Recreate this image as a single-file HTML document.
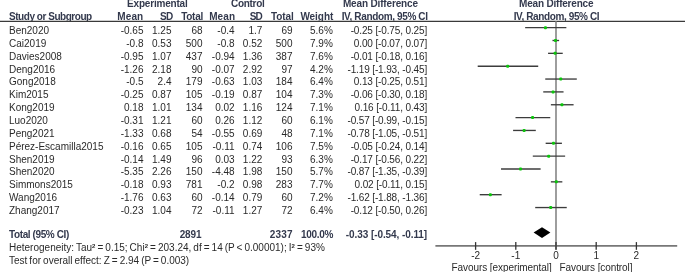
<!DOCTYPE html>
<html><head><meta charset="utf-8"><style>
html,body{margin:0;padding:0;background:#fff;}
body{width:685px;height:272px;position:relative;overflow:hidden;font-family:"Liberation Sans",sans-serif;font-size:10px;color:#2a2a2a;}
.t{position:absolute;white-space:nowrap;line-height:12px;height:12px;}
body{-webkit-font-smoothing:antialiased;}
.wrap{position:absolute;left:0;top:0;width:685px;height:272px;will-change:transform;}
.b{font-weight:bold;}
.sq{font-weight:bold;font-size:6px;position:relative;top:-3.2px;letter-spacing:0.1px;}
.s{position:absolute;left:0;top:0;}
</style></head><body><div class="wrap">
<div class="t b" style="top:-1.70px;left:7.30px;width:300px;text-align:center;color:#33394d;letter-spacing:-0.2px;">Experimental</div>
<div class="t b" style="top:-1.70px;left:97.75px;width:300px;text-align:center;color:#33394d;letter-spacing:-0.3px;">Control</div>
<div class="t b" style="top:-1.70px;left:230.38px;width:300px;text-align:center;color:#33394d;letter-spacing:-0.15px;">Mean Difference</div>
<div class="t b" style="top:-1.70px;left:406.20px;width:300px;text-align:center;color:#33394d;letter-spacing:-0.2px;">Mean Difference</div>
<div class="t b" style="top:11.10px;left:9.00px;color:#33394d;letter-spacing:-0.46px;">Study or Subgroup</div>
<div class="t b" style="top:11.10px;left:-56.70px;width:200px;text-align:right;color:#33394d;letter-spacing:0.1px;">Mean</div>
<div class="t b" style="top:11.10px;left:-27.80px;width:200px;text-align:right;color:#33394d;letter-spacing:-0.9px;">SD</div>
<div class="t b" style="top:11.10px;left:3.05px;width:200px;text-align:right;color:#33394d;letter-spacing:-0.25px;">Total</div>
<div class="t b" style="top:11.10px;left:35.10px;width:200px;text-align:right;color:#33394d;letter-spacing:0.1px;">Mean</div>
<div class="t b" style="top:11.10px;left:61.90px;width:200px;text-align:right;color:#33394d;letter-spacing:-0.9px;">SD</div>
<div class="t b" style="top:11.10px;left:93.70px;width:200px;text-align:right;color:#33394d;letter-spacing:-0.1px;">Total</div>
<div class="t b" style="top:11.10px;left:133.25px;width:200px;text-align:right;color:#33394d;letter-spacing:-0.05px;">Weight</div>
<div class="t b" style="top:11.10px;left:227.66px;width:200px;text-align:right;color:#33394d;letter-spacing:-0.36px;">IV, Random, 95% CI</div>
<div class="t b" style="top:11.10px;left:406.49px;width:300px;text-align:center;color:#33394d;letter-spacing:-0.38px;">IV, Random, 95% CI</div>
<div class="t" style="top:25.00px;left:9.00px;">Ben2020</div>
<div class="t" style="top:25.00px;left:-56.50px;width:200px;text-align:right;">-0.65</div>
<div class="t" style="top:25.00px;left:-28.50px;width:200px;text-align:right;">1.25</div>
<div class="t" style="top:25.00px;left:2.50px;width:200px;text-align:right;">68</div>
<div class="t" style="top:25.00px;left:34.60px;width:200px;text-align:right;">-0.4</div>
<div class="t" style="top:25.00px;left:62.30px;width:200px;text-align:right;">1.7</div>
<div class="t" style="top:25.00px;left:92.50px;width:200px;text-align:right;">69</div>
<div class="t" style="top:25.00px;left:132.80px;width:200px;text-align:right;">5.6%</div>
<div class="t" style="top:25.00px;left:227.13px;width:200px;text-align:right;letter-spacing:-0.13px;">-0.25 [-0.75, 0.25]</div>
<div class="t" style="top:37.86px;left:9.00px;">Cai2019</div>
<div class="t" style="top:37.86px;left:-56.50px;width:200px;text-align:right;">-0.8</div>
<div class="t" style="top:37.86px;left:-28.50px;width:200px;text-align:right;">0.53</div>
<div class="t" style="top:37.86px;left:2.50px;width:200px;text-align:right;">500</div>
<div class="t" style="top:37.86px;left:34.60px;width:200px;text-align:right;">-0.8</div>
<div class="t" style="top:37.86px;left:62.30px;width:200px;text-align:right;">0.52</div>
<div class="t" style="top:37.86px;left:92.50px;width:200px;text-align:right;">500</div>
<div class="t" style="top:37.86px;left:132.80px;width:200px;text-align:right;">7.9%</div>
<div class="t" style="top:37.86px;left:227.13px;width:200px;text-align:right;letter-spacing:-0.13px;">0.00 [-0.07, 0.07]</div>
<div class="t" style="top:50.71px;left:9.00px;">Davies2008</div>
<div class="t" style="top:50.71px;left:-56.50px;width:200px;text-align:right;">-0.95</div>
<div class="t" style="top:50.71px;left:-28.50px;width:200px;text-align:right;">1.07</div>
<div class="t" style="top:50.71px;left:2.50px;width:200px;text-align:right;">437</div>
<div class="t" style="top:50.71px;left:34.60px;width:200px;text-align:right;">-0.94</div>
<div class="t" style="top:50.71px;left:62.30px;width:200px;text-align:right;">1.36</div>
<div class="t" style="top:50.71px;left:92.50px;width:200px;text-align:right;">387</div>
<div class="t" style="top:50.71px;left:132.80px;width:200px;text-align:right;">7.6%</div>
<div class="t" style="top:50.71px;left:227.13px;width:200px;text-align:right;letter-spacing:-0.13px;">-0.01 [-0.18, 0.16]</div>
<div class="t" style="top:63.57px;left:9.00px;">Deng2016</div>
<div class="t" style="top:63.57px;left:-56.50px;width:200px;text-align:right;">-1.26</div>
<div class="t" style="top:63.57px;left:-28.50px;width:200px;text-align:right;">2.18</div>
<div class="t" style="top:63.57px;left:2.50px;width:200px;text-align:right;">90</div>
<div class="t" style="top:63.57px;left:34.60px;width:200px;text-align:right;">-0.07</div>
<div class="t" style="top:63.57px;left:62.30px;width:200px;text-align:right;">2.92</div>
<div class="t" style="top:63.57px;left:92.50px;width:200px;text-align:right;">97</div>
<div class="t" style="top:63.57px;left:132.80px;width:200px;text-align:right;">4.2%</div>
<div class="t" style="top:63.57px;left:227.13px;width:200px;text-align:right;letter-spacing:-0.13px;">-1.19 [-1.93, -0.45]</div>
<div class="t" style="top:76.43px;left:9.00px;">Gong2018</div>
<div class="t" style="top:76.43px;left:-56.50px;width:200px;text-align:right;">-0.5</div>
<div class="t" style="top:76.43px;left:-28.50px;width:200px;text-align:right;">2.4</div>
<div class="t" style="top:76.43px;left:2.50px;width:200px;text-align:right;">179</div>
<div class="t" style="top:76.43px;left:34.60px;width:200px;text-align:right;">-0.63</div>
<div class="t" style="top:76.43px;left:62.30px;width:200px;text-align:right;">1.03</div>
<div class="t" style="top:76.43px;left:92.50px;width:200px;text-align:right;">184</div>
<div class="t" style="top:76.43px;left:132.80px;width:200px;text-align:right;">6.4%</div>
<div class="t" style="top:76.43px;left:227.13px;width:200px;text-align:right;letter-spacing:-0.13px;">0.13 [-0.25, 0.51]</div>
<div class="t" style="top:89.29px;left:9.00px;">Kim2015</div>
<div class="t" style="top:89.29px;left:-56.50px;width:200px;text-align:right;">-0.25</div>
<div class="t" style="top:89.29px;left:-28.50px;width:200px;text-align:right;">0.87</div>
<div class="t" style="top:89.29px;left:2.50px;width:200px;text-align:right;">105</div>
<div class="t" style="top:89.29px;left:34.60px;width:200px;text-align:right;">-0.19</div>
<div class="t" style="top:89.29px;left:62.30px;width:200px;text-align:right;">0.87</div>
<div class="t" style="top:89.29px;left:92.50px;width:200px;text-align:right;">104</div>
<div class="t" style="top:89.29px;left:132.80px;width:200px;text-align:right;">7.3%</div>
<div class="t" style="top:89.29px;left:227.13px;width:200px;text-align:right;letter-spacing:-0.13px;">-0.06 [-0.30, 0.18]</div>
<div class="t" style="top:102.14px;left:9.00px;">Kong2019</div>
<div class="t" style="top:102.14px;left:-56.50px;width:200px;text-align:right;">0.18</div>
<div class="t" style="top:102.14px;left:-28.50px;width:200px;text-align:right;">1.01</div>
<div class="t" style="top:102.14px;left:2.50px;width:200px;text-align:right;">134</div>
<div class="t" style="top:102.14px;left:34.60px;width:200px;text-align:right;">0.02</div>
<div class="t" style="top:102.14px;left:62.30px;width:200px;text-align:right;">1.16</div>
<div class="t" style="top:102.14px;left:92.50px;width:200px;text-align:right;">124</div>
<div class="t" style="top:102.14px;left:132.80px;width:200px;text-align:right;">7.1%</div>
<div class="t" style="top:102.14px;left:227.13px;width:200px;text-align:right;letter-spacing:-0.13px;">0.16 [-0.11, 0.43]</div>
<div class="t" style="top:115.00px;left:9.00px;">Luo2020</div>
<div class="t" style="top:115.00px;left:-56.50px;width:200px;text-align:right;">-0.31</div>
<div class="t" style="top:115.00px;left:-28.50px;width:200px;text-align:right;">1.21</div>
<div class="t" style="top:115.00px;left:2.50px;width:200px;text-align:right;">60</div>
<div class="t" style="top:115.00px;left:34.60px;width:200px;text-align:right;">0.26</div>
<div class="t" style="top:115.00px;left:62.30px;width:200px;text-align:right;">1.12</div>
<div class="t" style="top:115.00px;left:92.50px;width:200px;text-align:right;">60</div>
<div class="t" style="top:115.00px;left:132.80px;width:200px;text-align:right;">6.1%</div>
<div class="t" style="top:115.00px;left:227.13px;width:200px;text-align:right;letter-spacing:-0.13px;">-0.57 [-0.99, -0.15]</div>
<div class="t" style="top:127.86px;left:9.00px;">Peng2021</div>
<div class="t" style="top:127.86px;left:-56.50px;width:200px;text-align:right;">-1.33</div>
<div class="t" style="top:127.86px;left:-28.50px;width:200px;text-align:right;">0.68</div>
<div class="t" style="top:127.86px;left:2.50px;width:200px;text-align:right;">54</div>
<div class="t" style="top:127.86px;left:34.60px;width:200px;text-align:right;">-0.55</div>
<div class="t" style="top:127.86px;left:62.30px;width:200px;text-align:right;">0.69</div>
<div class="t" style="top:127.86px;left:92.50px;width:200px;text-align:right;">48</div>
<div class="t" style="top:127.86px;left:132.80px;width:200px;text-align:right;">7.1%</div>
<div class="t" style="top:127.86px;left:227.13px;width:200px;text-align:right;letter-spacing:-0.13px;">-0.78 [-1.05, -0.51]</div>
<div class="t" style="top:140.71px;left:9.00px;">Pérez-Escamilla2015</div>
<div class="t" style="top:140.71px;left:-56.50px;width:200px;text-align:right;">-0.16</div>
<div class="t" style="top:140.71px;left:-28.50px;width:200px;text-align:right;">0.65</div>
<div class="t" style="top:140.71px;left:2.50px;width:200px;text-align:right;">105</div>
<div class="t" style="top:140.71px;left:34.60px;width:200px;text-align:right;">-0.11</div>
<div class="t" style="top:140.71px;left:62.30px;width:200px;text-align:right;">0.74</div>
<div class="t" style="top:140.71px;left:92.50px;width:200px;text-align:right;">106</div>
<div class="t" style="top:140.71px;left:132.80px;width:200px;text-align:right;">7.5%</div>
<div class="t" style="top:140.71px;left:227.13px;width:200px;text-align:right;letter-spacing:-0.13px;">-0.05 [-0.24, 0.14]</div>
<div class="t" style="top:153.57px;left:9.00px;">Shen2019</div>
<div class="t" style="top:153.57px;left:-56.50px;width:200px;text-align:right;">-0.14</div>
<div class="t" style="top:153.57px;left:-28.50px;width:200px;text-align:right;">1.49</div>
<div class="t" style="top:153.57px;left:2.50px;width:200px;text-align:right;">96</div>
<div class="t" style="top:153.57px;left:34.60px;width:200px;text-align:right;">0.03</div>
<div class="t" style="top:153.57px;left:62.30px;width:200px;text-align:right;">1.22</div>
<div class="t" style="top:153.57px;left:92.50px;width:200px;text-align:right;">93</div>
<div class="t" style="top:153.57px;left:132.80px;width:200px;text-align:right;">6.3%</div>
<div class="t" style="top:153.57px;left:227.13px;width:200px;text-align:right;letter-spacing:-0.13px;">-0.17 [-0.56, 0.22]</div>
<div class="t" style="top:166.43px;left:9.00px;">Shen2020</div>
<div class="t" style="top:166.43px;left:-56.50px;width:200px;text-align:right;">-5.35</div>
<div class="t" style="top:166.43px;left:-28.50px;width:200px;text-align:right;">2.26</div>
<div class="t" style="top:166.43px;left:2.50px;width:200px;text-align:right;">150</div>
<div class="t" style="top:166.43px;left:34.60px;width:200px;text-align:right;">-4.48</div>
<div class="t" style="top:166.43px;left:62.30px;width:200px;text-align:right;">1.98</div>
<div class="t" style="top:166.43px;left:92.50px;width:200px;text-align:right;">150</div>
<div class="t" style="top:166.43px;left:132.80px;width:200px;text-align:right;">5.7%</div>
<div class="t" style="top:166.43px;left:227.13px;width:200px;text-align:right;letter-spacing:-0.13px;">-0.87 [-1.35, -0.39]</div>
<div class="t" style="top:179.29px;left:9.00px;">Simmons2015</div>
<div class="t" style="top:179.29px;left:-56.50px;width:200px;text-align:right;">-0.18</div>
<div class="t" style="top:179.29px;left:-28.50px;width:200px;text-align:right;">0.93</div>
<div class="t" style="top:179.29px;left:2.50px;width:200px;text-align:right;">781</div>
<div class="t" style="top:179.29px;left:34.60px;width:200px;text-align:right;">-0.2</div>
<div class="t" style="top:179.29px;left:62.30px;width:200px;text-align:right;">0.98</div>
<div class="t" style="top:179.29px;left:92.50px;width:200px;text-align:right;">283</div>
<div class="t" style="top:179.29px;left:132.80px;width:200px;text-align:right;">7.7%</div>
<div class="t" style="top:179.29px;left:227.13px;width:200px;text-align:right;letter-spacing:-0.13px;">0.02 [-0.11, 0.15]</div>
<div class="t" style="top:192.14px;left:9.00px;">Wang2016</div>
<div class="t" style="top:192.14px;left:-56.50px;width:200px;text-align:right;">-1.76</div>
<div class="t" style="top:192.14px;left:-28.50px;width:200px;text-align:right;">0.63</div>
<div class="t" style="top:192.14px;left:2.50px;width:200px;text-align:right;">60</div>
<div class="t" style="top:192.14px;left:34.60px;width:200px;text-align:right;">-0.14</div>
<div class="t" style="top:192.14px;left:62.30px;width:200px;text-align:right;">0.79</div>
<div class="t" style="top:192.14px;left:92.50px;width:200px;text-align:right;">60</div>
<div class="t" style="top:192.14px;left:132.80px;width:200px;text-align:right;">7.2%</div>
<div class="t" style="top:192.14px;left:227.13px;width:200px;text-align:right;letter-spacing:-0.13px;">-1.62 [-1.88, -1.36]</div>
<div class="t" style="top:205.00px;left:9.00px;">Zhang2017</div>
<div class="t" style="top:205.00px;left:-56.50px;width:200px;text-align:right;">-0.23</div>
<div class="t" style="top:205.00px;left:-28.50px;width:200px;text-align:right;">1.04</div>
<div class="t" style="top:205.00px;left:2.50px;width:200px;text-align:right;">72</div>
<div class="t" style="top:205.00px;left:34.60px;width:200px;text-align:right;">-0.11</div>
<div class="t" style="top:205.00px;left:62.30px;width:200px;text-align:right;">1.27</div>
<div class="t" style="top:205.00px;left:92.50px;width:200px;text-align:right;">72</div>
<div class="t" style="top:205.00px;left:132.80px;width:200px;text-align:right;">6.4%</div>
<div class="t" style="top:205.00px;left:227.13px;width:200px;text-align:right;letter-spacing:-0.13px;">-0.12 [-0.50, 0.26]</div>
<div class="t b" style="top:228.80px;left:9.00px;color:#33394d;letter-spacing:-0.39px;">Total (95% CI)</div>
<div class="t b" style="top:228.80px;left:1.50px;width:200px;text-align:right;color:#33394d;letter-spacing:-0.1px;">2891</div>
<div class="t b" style="top:228.80px;left:92.70px;width:200px;text-align:right;color:#33394d;letter-spacing:0.2px;">2337</div>
<div class="t b" style="top:228.80px;left:133.10px;width:200px;text-align:right;color:#33394d;letter-spacing:-0.3px;">100.0%</div>
<div class="t b" style="top:228.80px;left:227.08px;width:200px;text-align:right;color:#33394d;letter-spacing:-0.08px;">-0.33 [-0.54, -0.11]</div>
<div class="t" style="top:242.10px;left:9.00px;letter-spacing:0px;word-spacing:-0.75px;">Heterogeneity: Tau<b class="sq">2</b> = 0.15; Chi<b class="sq">2</b> = 203.24, df = 14 (P &lt; 0.00001); I<b class="sq">2</b> = 93%</div>
<div class="t" style="top:255.10px;left:9.00px;letter-spacing:0px;word-spacing:-0.75px;">Test for overall effect: Z = 2.94 (P = 0.003)</div>
<svg class="s" width="685" height="272" viewBox="0 0 685 272"><line x1="0" y1="21.4" x2="685" y2="21.4" stroke="#3a3a3a" stroke-width="1.2"/><line x1="556.0" y1="21.4" x2="556.0" y2="249.8" stroke="#999" stroke-width="1.9"/><line x1="525.15" y1="27.65" x2="566.35" y2="27.65" stroke="#3c3c3c" stroke-width="1.35"/><rect x="543.95" y="26.15" width="3.0" height="3.0" rx="1" fill="#0cc40c"/><line x1="552.49" y1="40.50" x2="559.11" y2="40.50" stroke="#3c3c3c" stroke-width="1.35"/><rect x="554.00" y="39.00" width="3.0" height="3.0" rx="1" fill="#0cc40c"/><line x1="548.06" y1="53.35" x2="562.73" y2="53.35" stroke="#3c3c3c" stroke-width="1.35"/><rect x="553.60" y="51.85" width="3.0" height="3.0" rx="1" fill="#0cc40c"/><line x1="477.71" y1="66.20" x2="538.21" y2="66.20" stroke="#3c3c3c" stroke-width="1.35"/><rect x="506.16" y="64.70" width="3.0" height="3.0" rx="1" fill="#0cc40c"/><line x1="545.25" y1="79.05" x2="576.80" y2="79.05" stroke="#3c3c3c" stroke-width="1.35"/><rect x="559.23" y="77.55" width="3.0" height="3.0" rx="1" fill="#0cc40c"/><line x1="543.24" y1="91.90" x2="563.54" y2="91.90" stroke="#3c3c3c" stroke-width="1.35"/><rect x="551.59" y="90.40" width="3.0" height="3.0" rx="1" fill="#0cc40c"/><line x1="550.88" y1="104.75" x2="573.59" y2="104.75" stroke="#3c3c3c" stroke-width="1.35"/><rect x="560.43" y="103.25" width="3.0" height="3.0" rx="1" fill="#0cc40c"/><line x1="515.50" y1="117.60" x2="550.27" y2="117.60" stroke="#3c3c3c" stroke-width="1.35"/><rect x="531.09" y="116.10" width="3.0" height="3.0" rx="1" fill="#0cc40c"/><line x1="513.09" y1="130.45" x2="535.80" y2="130.45" stroke="#3c3c3c" stroke-width="1.35"/><rect x="522.64" y="128.95" width="3.0" height="3.0" rx="1" fill="#0cc40c"/><line x1="545.65" y1="143.30" x2="561.93" y2="143.30" stroke="#3c3c3c" stroke-width="1.35"/><rect x="551.99" y="141.80" width="3.0" height="3.0" rx="1" fill="#0cc40c"/><line x1="532.79" y1="156.15" x2="565.14" y2="156.15" stroke="#3c3c3c" stroke-width="1.35"/><rect x="547.17" y="154.65" width="3.0" height="3.0" rx="1" fill="#0cc40c"/><line x1="501.03" y1="169.00" x2="540.62" y2="169.00" stroke="#3c3c3c" stroke-width="1.35"/><rect x="519.03" y="167.50" width="3.0" height="3.0" rx="1" fill="#0cc40c"/><line x1="550.88" y1="181.85" x2="562.33" y2="181.85" stroke="#3c3c3c" stroke-width="1.35"/><rect x="554.80" y="180.35" width="3.0" height="3.0" rx="1" fill="#0cc40c"/><line x1="479.72" y1="194.70" x2="501.63" y2="194.70" stroke="#3c3c3c" stroke-width="1.35"/><rect x="488.88" y="193.20" width="3.0" height="3.0" rx="1" fill="#0cc40c"/><line x1="535.20" y1="207.55" x2="566.75" y2="207.55" stroke="#3c3c3c" stroke-width="1.35"/><rect x="549.18" y="206.05" width="3.0" height="3.0" rx="1" fill="#0cc40c"/><polygon points="533.60,232.6 542.00,227.2 550.40,232.6 542.00,238.0" fill="#000"/><line x1="435.40" y1="245.9" x2="677.20" y2="245.9" stroke="#777" stroke-width="1.6"/><line x1="475.60" y1="242.1" x2="475.60" y2="249.8" stroke="#333" stroke-width="1.3"/><line x1="515.80" y1="242.1" x2="515.80" y2="249.8" stroke="#333" stroke-width="1.3"/><line x1="556.00" y1="242.1" x2="556.00" y2="249.8" stroke="#333" stroke-width="1.3"/><line x1="596.20" y1="242.1" x2="596.20" y2="249.8" stroke="#333" stroke-width="1.3"/><line x1="636.40" y1="242.1" x2="636.40" y2="249.8" stroke="#333" stroke-width="1.3"/></svg>
<div class="t" style="top:250.00px;left:325.60px;width:300px;text-align:center;">-2</div>
<div class="t" style="top:250.00px;left:365.80px;width:300px;text-align:center;">-1</div>
<div class="t" style="top:250.00px;left:406.00px;width:300px;text-align:center;">0</div>
<div class="t" style="top:250.00px;left:446.20px;width:300px;text-align:center;">1</div>
<div class="t" style="top:250.00px;left:486.40px;width:300px;text-align:center;">2</div>
<div class="t" style="top:261.50px;left:351.54px;width:300px;text-align:center;letter-spacing:-0.07px;">Favours [experimental]</div>
<div class="t" style="top:261.50px;left:445.95px;width:300px;text-align:center;letter-spacing:-0.1px;">Favours [control]</div>
</div></body></html>
